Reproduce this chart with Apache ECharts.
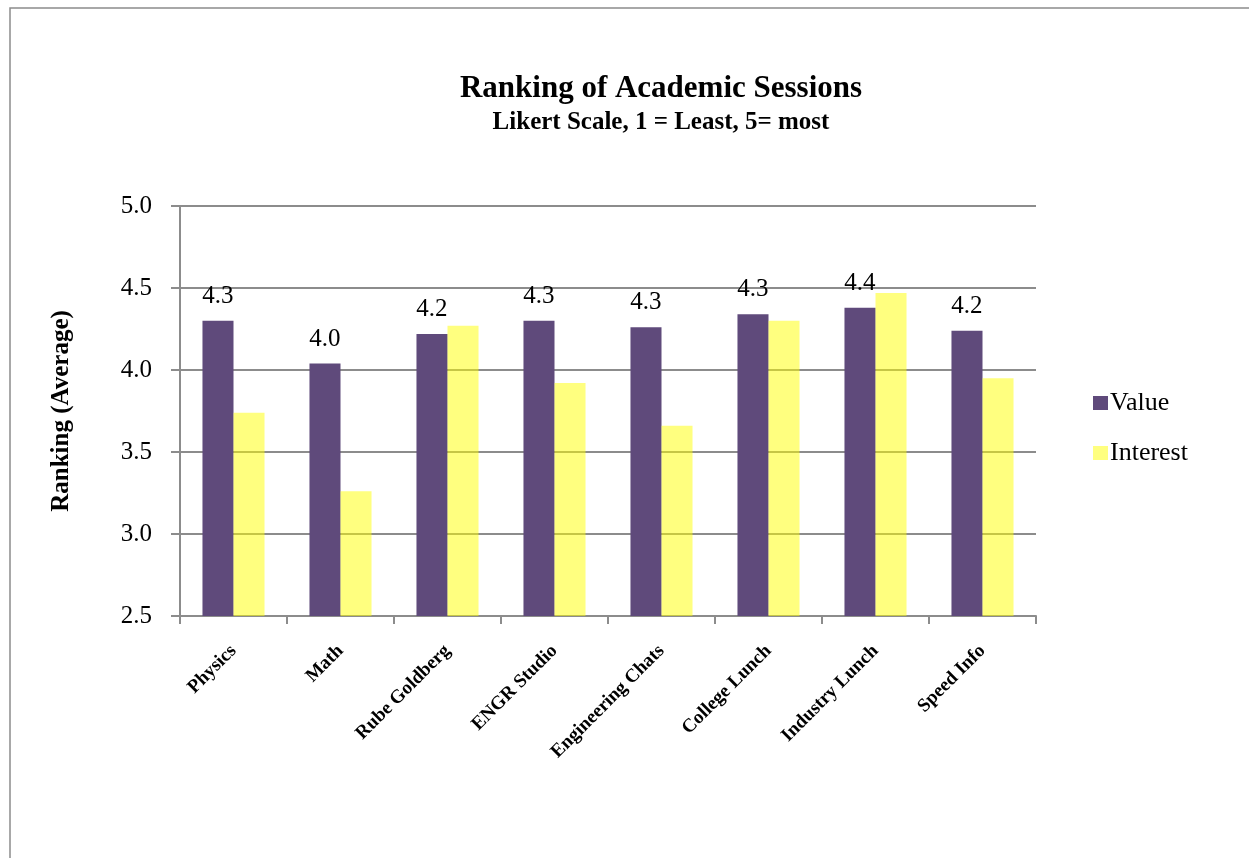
<!DOCTYPE html>
<html>
<head>
<meta charset="utf-8">
<script src="https://cdn.jsdelivr.net/npm/echarts@6/dist/echarts.min.js"></script>
<style>
  html, body { margin: 0; padding: 0; background: #fff; }
  #chart { width: 1249px; height: 858px; }
</style>
</head>
<body>
<div id="chart"></div>
<script>
// Session names along the x axis
const sessions = ['Physics', 'Math', 'Rube Goldberg', 'ENGR Studio', 'Engineering Chats', 'College Lunch', 'Industry Lunch', 'Speed Info'];
// Average Likert ratings
const valueRatings = [4.30, 4.04, 4.22, 4.30, 4.26, 4.34, 4.38, 4.24];
const interestRatings = [3.74, 3.26, 4.27, 3.92, 3.66, 4.30, 4.47, 3.95];
// Value-axis range and step
const yMin = 2.5, yMax = 5.0, yStep = 0.5;

const serif = 'Liberation Serif';
const gray = '#8c8c8c';

const chart = echarts.init(document.getElementById('chart'));
chart.setOption({
  backgroundColor: '#fff',
  animation: false,
  graphic: [{
    type: 'rect',
    shape: { x: 10, y: 8, width: 1260, height: 880 },
    style: { fill: 'none', stroke: '#8c8c8c', lineWidth: 1.5 },
    z: -1
  }],
  title: {
    text: 'Ranking of Academic Sessions',
    subtext: 'Likert Scale, 1 = Least, 5= most',
    left: 656,
    textAlign: 'center',
    top: 68,
    itemGap: 6,
    textStyle: { fontFamily: serif, fontSize: 31, fontWeight: 'bold', color: '#000' },
    subtextStyle: { fontFamily: serif, fontSize: 25, fontWeight: 'bold', color: '#000' }
  },
  legend: {
    orient: 'vertical',
    left: 1088,
    top: 385,
    itemWidth: 15,
    itemHeight: 14,
    itemGap: 24,
    icon: 'rect',
    textStyle: { fontFamily: serif, fontSize: 26, color: '#000', padding: [0, 0, 0, -3] },
    data: ['Value', 'Interest']
  },
  grid: { left: 180, right: 213, top: 206, bottom: 242, containLabel: false },
  xAxis: {
    type: 'category',
    data: sessions,
    axisLine: { lineStyle: { color: gray, width: 2 } },
    axisTick: { show: true, length: 8, lineStyle: { color: gray, width: 2 } },
    axisLabel: {
      rotate: 45,
      margin: 32,
      interval: 0,
      fontFamily: serif,
      fontSize: 19,
      fontWeight: 'bold',
      color: '#000'
    }
  },
  yAxis: {
    type: 'value',
    min: yMin,
    max: yMax,
    interval: yStep,
    name: 'Ranking (Average)',
    nameLocation: 'middle',
    nameGap: 106,
    nameRotate: 90,
    nameTextStyle: { fontFamily: serif, fontSize: 25, fontWeight: 'bold', color: '#000' },
    axisLine: { show: true, lineStyle: { color: gray, width: 2 } },
    axisTick: { show: true, length: 9, lineStyle: { color: gray, width: 2 } },
    splitLine: { lineStyle: { color: gray, width: 2 } },
    axisLabel: {
      margin: 28,
      fontFamily: serif,
      fontSize: 25,
      color: '#000',
      formatter: v => v.toFixed(1)
    }
  },
  series: [
    {
      name: 'Value',
      type: 'bar',
      data: valueRatings,
      barGap: '0%',
      barCategoryGap: '42%',
      itemStyle: { color: '#5f4a7b' },
      z: 1,
      label: {
        show: true,
        position: 'top',
        distance: 12,
        fontFamily: serif,
        fontSize: 25,
        color: '#000',
        formatter: p => p.value.toFixed(1)
      }
    },
    {
      name: 'Interest',
      type: 'bar',
      data: interestRatings,
      itemStyle: { color: 'rgba(255,255,0,0.5)' },
      z: 3
    }
  ]
});
</script>
</body>
</html>
